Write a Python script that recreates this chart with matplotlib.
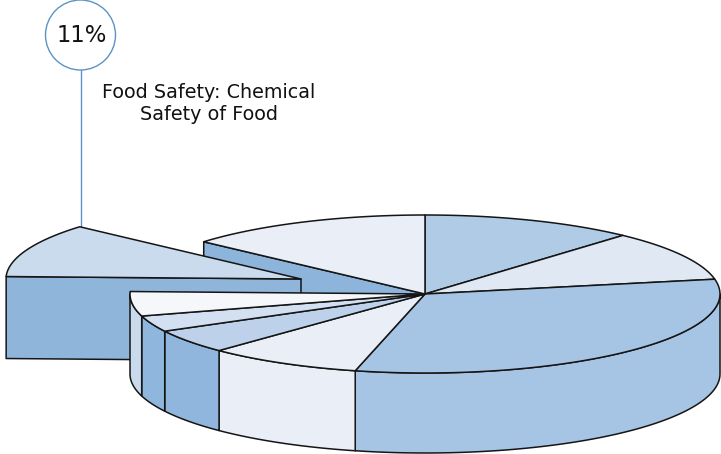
import numpy as np
import matplotlib
matplotlib.use('Agg')
import matplotlib.pyplot as plt
from matplotlib.patches import Circle

# Share of each slice in percent, clockwise from twelve o'clock
slice_values = [11.7, 10.3, 31.8, 8.5, 4.9, 3.3, 5.0, 11.0, 13.5]
top_colors = ['#B0CBE6', '#DFE8F3', '#A6C5E5', '#E9EEF7', '#BDD2EA',
              '#D2E0F1', '#F5F7FB', '#C9DBED', '#E9EEF7']
side_colors = ['#A6C5E5', '#DFE8F3', '#A6C5E5', '#E9EEF7', '#90B6DD',
               '#8FB6DC', '#C9DAED', '#8FB5DB', '#8DB4DB']
callout_label = '11%'
callout_title = 'Food Safety: Chemical\nSafety of Food'
exploded_index = 7

# Pie geometry in pixels
center = np.array([425.0, 294.0])
rx, ry = 295.0, 79.0
depth = 80.0
exploded_depth = 82.0
explode_offset = np.array([-124.0, -15.0])
line_color = '#151515'


def rim_points(start, end, offset=(0, 0), drop=0.0):
    t = np.radians(np.linspace(start, end, 80))
    x = center[0] + offset[0] + rx * np.cos(t)
    y = center[1] + offset[1] + drop - ry * np.sin(t)
    return np.column_stack([x, y])


def fill_poly(ax, points, color, zorder):
    ax.fill(points[:, 0], points[:, 1], facecolor=color, edgecolor=line_color,
            linewidth=1.1, joinstyle='round', zorder=zorder)


# Draw the outer wall of the part of a slice that faces the viewer
def draw_wall(ax, start, end, color, offset, zorder):
    s, e = max(start, -180.0), min(end, 0.0)
    if e > s:
        pts = np.vstack([rim_points(e, s, offset), rim_points(s, e, offset, depth)])
        fill_poly(ax, pts, color, zorder)


def draw_top(ax, start, end, color, offset, zorder):
    tip = center + np.array(offset)
    pts = np.vstack([tip, rim_points(start, end, offset)])
    fill_poly(ax, pts, color, zorder)


# Draw the flat cut face between the rim at an angle and the pie axis
def draw_cut(ax, angle, color, offset, zorder, height=depth):
    tip = center + np.array(offset)
    rim = rim_points(angle, angle, offset)[0]
    pts = np.array([rim, tip, tip + [0, height], rim + [0, height]])
    fill_poly(ax, pts, color, zorder)


def main():
    fig = plt.figure(figsize=(7.21, 4.54), dpi=100)
    ax = fig.add_axes([0, 0, 1, 1])
    ax.set_xlim(0, 721)
    ax.set_ylim(454, 0)
    ax.axis('off')

    sweeps = np.array(slice_values) / sum(slice_values) * 360.0
    ends = 90.0 - np.cumsum(sweeps)
    starts = ends + sweeps

    # Face exposed by pulling the slice out of the pie
    draw_cut(ax, starts[8], side_colors[8], (0, 0), 1)

    # Exploded slice
    draw_cut(ax, starts[exploded_index], side_colors[exploded_index], explode_offset, 2,
             height=exploded_depth)
    draw_top(ax, starts[exploded_index], ends[exploded_index],
             top_colors[exploded_index], explode_offset, 3)

    # Remaining slices, walls first so the tops sit over them
    for i in range(len(slice_values)):
        if i == exploded_index:
            continue
        draw_wall(ax, ends[i], starts[i], side_colors[i], (0, 0), 4)
    for i in range(len(slice_values)):
        if i == exploded_index:
            continue
        draw_top(ax, starts[i], ends[i], top_colors[i], (0, 0), 5)

    # Callout bubble and leader line
    mid_x = 80.5
    ax.plot([mid_x, mid_x], [70, 228], color='#5B93C7', linewidth=1.0, zorder=2)
    ax.add_patch(Circle((mid_x, 35), 35, facecolor='white', edgecolor='#5B93C7',
                        linewidth=1.0, zorder=6))
    ax.text(mid_x + 1, 36, callout_label, ha='center', va='center', fontsize=16.4,
            family='DejaVu Sans', color='#111111', zorder=7)
    ax.text(209, 103, callout_title, ha='center', va='center', fontsize=13.8,
            family='DejaVu Sans', color='#111111', linespacing=1.2, zorder=7)

    fig.savefig('out.png', dpi=100)


if __name__ == "__main__":
    main()
